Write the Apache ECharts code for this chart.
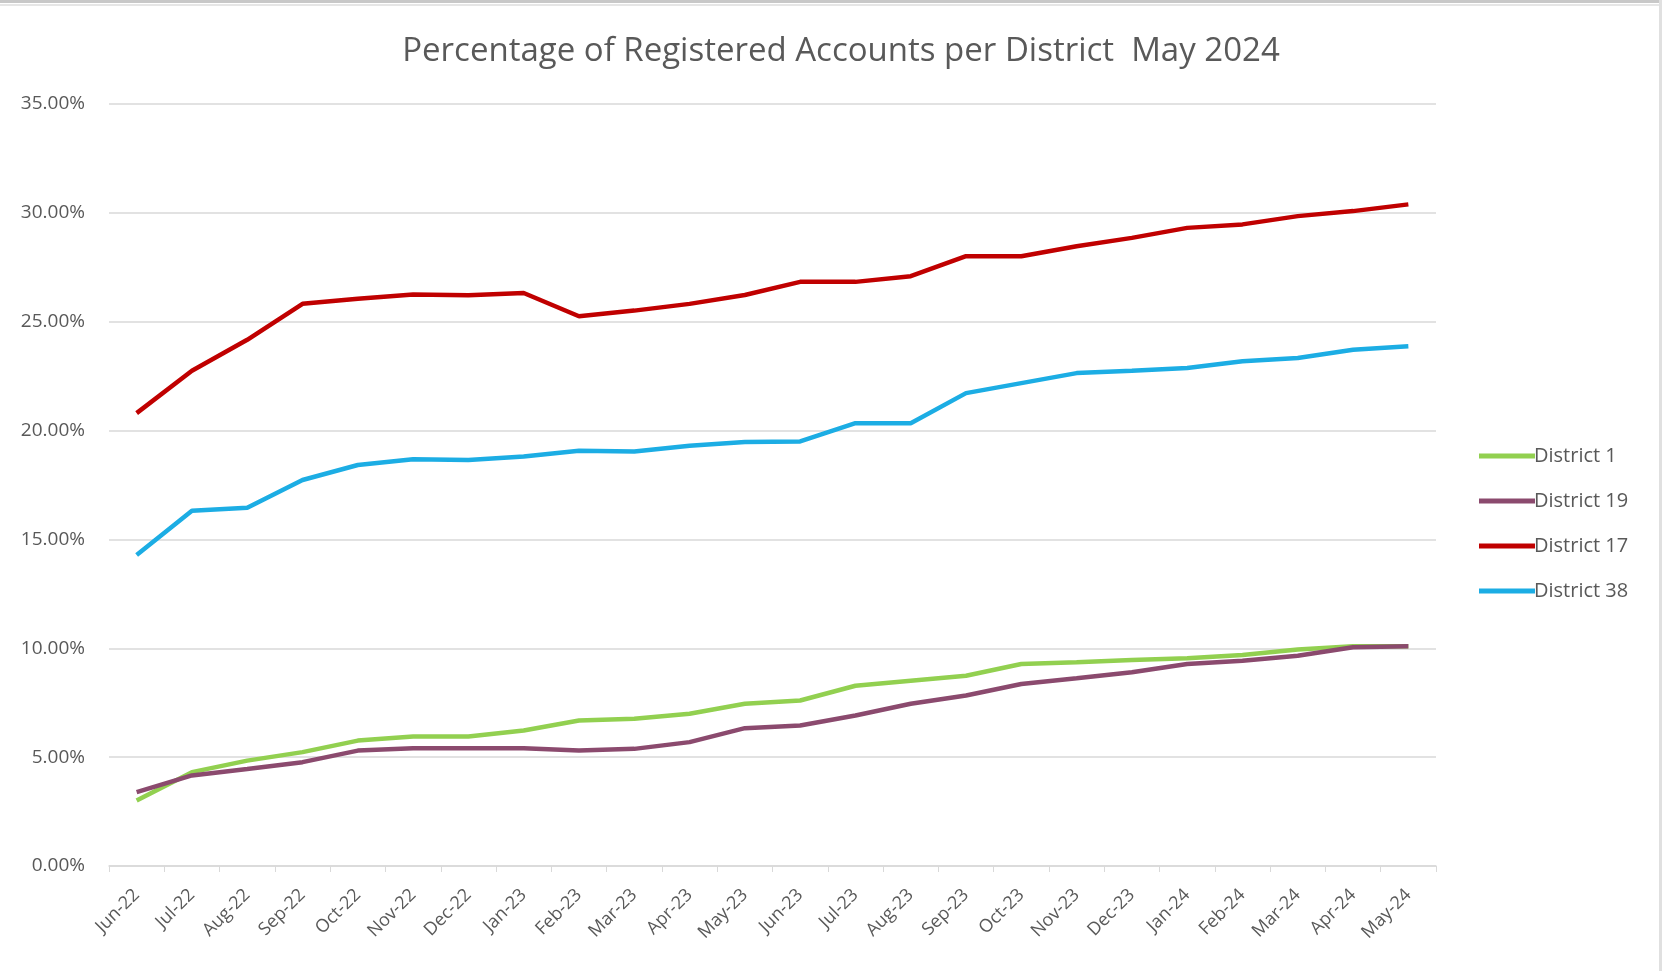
<!DOCTYPE html>
<html>
<head>
<meta charset="utf-8">
<script src="https://cdn.jsdelivr.net/npm/echarts@6/dist/echarts.min.js"></script>
<style>
html,body{margin:0;padding:0;background:#fff;}
#chart{width:1662px;height:971px;}
</style>
</head>
<body>
<div id="chart"></div>
<script>
const months = ['Jun-22','Jul-22','Aug-22','Sep-22','Oct-22','Nov-22','Dec-22','Jan-23','Feb-23','Mar-23','Apr-23','May-23','Jun-23','Jul-23','Aug-23','Sep-23','Oct-23','Nov-23','Dec-23','Jan-24','Feb-24','Mar-24','Apr-24','May-24'];
const district1  = [3.01,4.31,4.84,5.23,5.76,5.95,5.95,6.22,6.68,6.76,6.99,7.45,7.60,8.28,8.51,8.74,9.28,9.36,9.46,9.54,9.69,9.94,10.09,10.09];
const district19 = [3.39,4.16,4.46,4.77,5.30,5.41,5.41,5.41,5.30,5.38,5.69,6.33,6.45,6.91,7.45,7.83,8.36,8.62,8.90,9.28,9.43,9.66,10.05,10.09];
const district17 = [20.80,22.75,24.17,25.82,26.06,26.25,26.22,26.32,25.25,25.51,25.82,26.23,26.83,26.83,27.09,28.01,28.01,28.47,28.85,29.31,29.47,29.85,30.08,30.39];
const district38 = [14.28,16.32,16.46,17.73,18.42,18.68,18.65,18.81,19.07,19.04,19.30,19.47,19.50,20.34,20.34,21.72,22.18,22.64,22.75,22.87,23.18,23.33,23.71,23.87];
const seriesNames = ['District 1','District 19','District 17','District 38'];
const seriesData = [district1, district19, district17, district38];
const colors = ['#92D050','#8B4A6E','#C00000','#1CADE4'];

const chart = echarts.init(document.getElementById('chart'));
const font = '"Open Sans", "Noto Sans", sans-serif';
chart.setOption({
  animation:false,
  backgroundColor:'#fff',
  title:{
    text:'Percentage of Registered Accounts per District  May 2024',
    left:836, top:30, textAlign:'center',
    textStyle:{fontFamily:font, fontWeight:'normal', fontSize:33, color:'#595959'}
  },
  graphic:[
    {type:'rect', shape:{x:0,y:0,width:1662,height:3}, style:{fill:'#c8c8c8'}},
    {type:'rect', shape:{x:0,y:4,width:1662,height:2}, style:{fill:'#e6e6e6'}},
    {type:'rect', shape:{x:1659,y:0,width:3,height:971}, style:{fill:'#e0e0e0'}}
  ],
  legend:{
    orient:'vertical', left:1474, top:441, itemGap:25,
    itemWidth:56, itemHeight:5,
    icon:'rect',
    textStyle:{fontFamily:font, fontSize:20, color:'#595959', padding:[0,0,0,-6]},
    data:seriesNames
  },
  grid:{left:109, right:226, top:104, bottom:105},
  xAxis:{
    type:'category', data:months, boundaryGap:true,
    axisLine:{lineStyle:{color:'#d9d9d9', width:1.5}},
    axisTick:{show:true, length:6, lineStyle:{color:'#d9d9d9'}},
    axisLabel:{rotate:45, fontFamily:font, fontSize:18, color:'#595959', margin:26, interval:0}
  },
  yAxis:{
    type:'value', min:0, max:35, interval:5,
    axisLine:{show:false}, axisTick:{show:false},
    splitLine:{lineStyle:{color:'#d9d9d9', width:1.5}},
    axisLabel:{fontFamily:font, fontSize:19, color:'#595959', margin:24,
      formatter:v=>v.toFixed(2)+'%'}
  },
  series:seriesNames.map((n,i)=>({
    name:n, type:'line', data:seriesData[i], symbol:'none',
    lineStyle:{width:4.5, color:colors[i]}, itemStyle:{color:colors[i]}
  }))
});
</script>
</body>
</html>
